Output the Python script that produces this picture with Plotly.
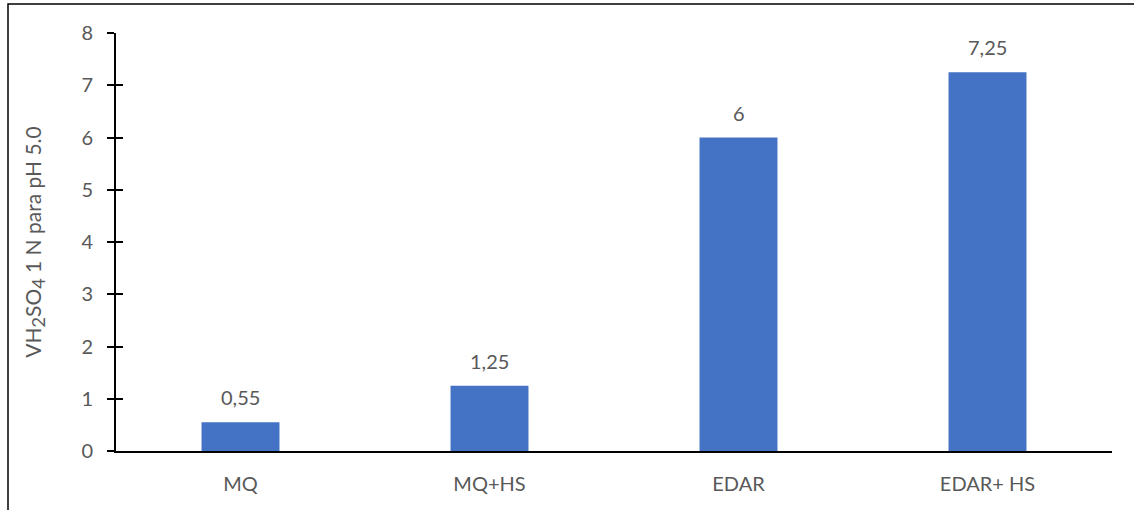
import plotly.graph_objects as go

# Volume of 1 N H2SO4 needed to reach pH 5.0 for each sample
categories = ["MQ", "MQ+HS", "EDAR", "EDAR+ HS"]
volumes = [0.55, 1.25, 6, 7.25]
y_ticks = [0, 1, 2, 3, 4, 5, 6, 7, 8]

bar_color = "#4472C4"
text_color = "#595959"
font_family = "Lato, Carlito, Calibri, sans-serif"
fs = 20


def fmt_es(v):
    # decimal comma, no trailing zeros
    s = ("%g" % v).replace(".", ",")
    return s


fig = go.Figure()
fig.add_trace(go.Bar(
    x=categories,
    y=volumes,
    marker=dict(color=bar_color, line=dict(width=0)),
    width=0.313,
    hoverinfo="x+y",
))

# value labels above each bar
for c, v in zip(categories, volumes):
    fig.add_annotation(
        x=c, y=v, xref="x", yref="y",
        text=fmt_es(v), showarrow=False,
        yanchor="bottom", yshift=11,
        font=dict(size=fs, color=text_color, family=font_family),
    )

W, H = 1134, 510
ml, mr, mt, mb = 116, 22, 33, 58.5
pw, ph = W - ml - mr, H - mt - mb

# outer frame, partly cut at the right and bottom
fig.add_shape(
    type="rect", xref="paper", yref="paper",
    x0=(8 - ml) / pw, x1=(W + 10 - ml) / pw,
    y0=-(H + 10 - (H - mb)) / ph, y1=1 + (mt - 4) / ph,
    line=dict(color="#000000", width=1.5),
    fillcolor="rgba(0,0,0,0)", layer="below",
)

fig.update_layout(
    width=W, height=H,
    margin=dict(l=ml, r=mr, t=mt, b=mb, pad=0),
    plot_bgcolor="white", paper_bgcolor="white",
    showlegend=False,
    bargap=0.687,
    font=dict(family=font_family, size=fs, color=text_color),
    xaxis=dict(
        showline=True, linecolor="black", linewidth=2,
        ticks="", showgrid=False, zeroline=False,
        tickfont=dict(size=fs, color=text_color),
        ticklabelstandoff=14,
    ),
    yaxis=dict(
        range=[0, 8], tickvals=y_ticks,
        showline=True, linecolor="black", linewidth=2,
        ticks="outside", ticklen=7, tickwidth=2, tickcolor="black",
        showgrid=False, zeroline=False,
        tickfont=dict(size=fs, color=text_color),
        ticklabelstandoff=10,
        title=dict(
            text="VH<sub><span style='font-size:18px'>2</span></sub>SO"
                 "<sub><span style='font-size:18px'>4</span></sub> 1 N para pH 5.0",
            font=dict(size=21, color=text_color),
            standoff=34,
        ),
    ),
    # mirror axis to draw the inner half of the crossing ticks
    yaxis2=dict(
        range=[0, 8], tickvals=y_ticks, overlaying="y", side="left",
        anchor="x", showline=False, showgrid=False, zeroline=False,
        ticks="inside", ticklen=7, tickwidth=2, tickcolor="black",
        showticklabels=False,
    ),
)

# invisible trace to activate the second y axis
fig.add_trace(go.Scatter(x=categories, y=volumes, yaxis="y2", mode="markers",
                         marker=dict(opacity=0), hoverinfo="skip"))

fig.write_html("out.html")
